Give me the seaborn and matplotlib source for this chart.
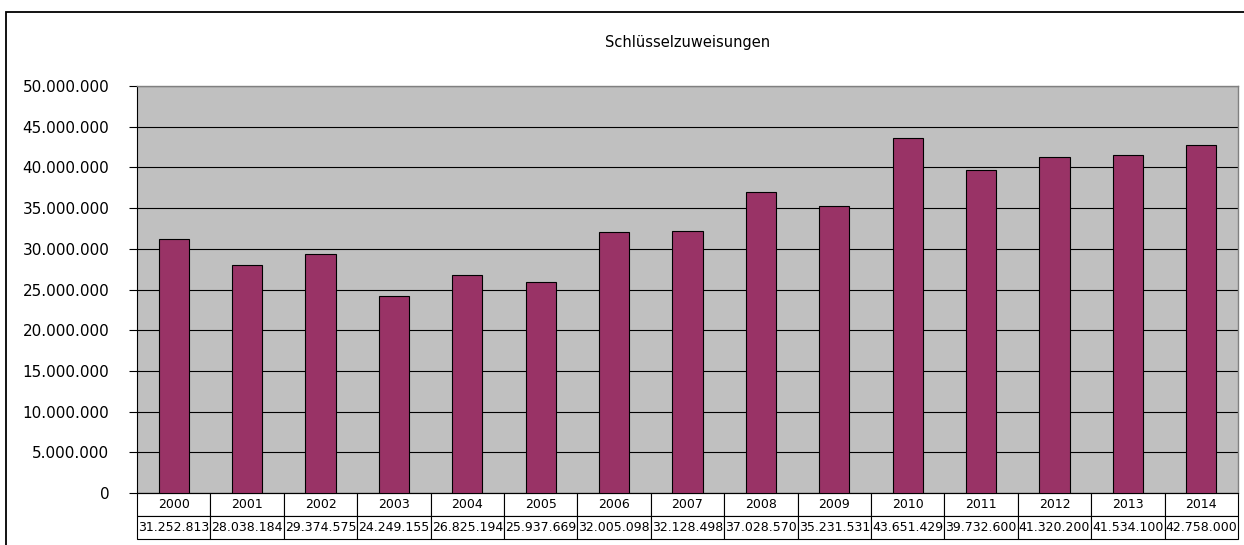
import matplotlib.pyplot as plt
import matplotlib.patches as mpatches
import matplotlib.transforms as mtransforms
import seaborn as sns
import pandas as pd

# data
years = ['2000', '2001', '2002', '2003', '2004', '2005', '2006', '2007',
         '2008', '2009', '2010', '2011', '2012', '2013', '2014']
values = [31252813, 28038184, 29374575, 24249155, 26825194, 25937669, 32005098,
          32128498, 37028570, 35231531, 43651429, 39732600, 41320200, 41534100,
          42758000]
title = 'Schlüsselzuweisungen'


def dotted(v):
    return f'{int(v):,}'.replace(',', '.')


sns.set_style('white')
plt.rcParams['font.family'] = ['DejaVu Sans']
plt.rcParams['text.color'] = 'black'
plt.rcParams['ytick.color'] = 'black'

W, H = 1244, 545
fig = plt.figure(figsize=(W / 100, H / 100), dpi=100)

# outer chart border (runs off the right / bottom edge like the original)
fig.patches.append(mpatches.Rectangle((6 / W, 0 - 0.05), 1.1, (H - 12) / H + 0.05,
                                      transform=fig.transFigure, fill=False,
                                      edgecolor='black', lw=1.3, clip_on=False))

left, right, top, bottom = 137, 1238, 86, 493
ax = fig.add_axes([left / W, (H - bottom) / H, (right - left) / W, (bottom - top) / H])
ax.set_facecolor('#c0c0c0')

df = pd.DataFrame({'year': years, 'value': values})
sns.barplot(data=df, x='year', y='value', color='#993366', edgecolor='black',
            linewidth=0.8, width=0.41, saturation=1, ax=ax, zorder=3)

ax.set_ylim(0, 50000000)
ax.set_xlim(-0.5, len(years) - 0.5)
ax.set_yticks(range(0, 50000001, 5000000))
ax.set_yticklabels([dotted(t) for t in ax.get_yticks()], fontsize=11)
shift = mtransforms.ScaledTranslation(0, -2 / 100, fig.dpi_scale_trans)
for lab in ax.get_yticklabels():
    lab.set_transform(lab.get_transform() + shift)
ax.tick_params(axis='y', length=6, width=0.8, pad=14, color='black', left=True)
ax.yaxis.grid(True, color='black', lw=0.8, zorder=1)
ax.set_axisbelow(True)
ax.set_xticks([])
ax.set_xlabel('')
ax.set_ylabel('')
for s in ['top', 'right']:
    ax.spines[s].set_color('#808080')
    ax.spines[s].set_linewidth(1)
ax.spines['left'].set_color('black')
ax.spines['bottom'].set_color('black')

# data table under the plot
th = 46 / (bottom - top)
tbl = ax.table(cellText=[years, [dotted(v) for v in values]], cellLoc='center',
               bbox=[0, -th, 1, th])
tbl.auto_set_font_size(False)
tbl.set_fontsize(9)
for (r, c), cell in tbl.get_celld().items():
    cell.set_edgecolor('black')
    cell.set_linewidth(0.8)
    cell.set_facecolor('white')

fig.text((left + right) / 2 / W, 1 - 42 / H, title, ha='center', va='center',
         fontsize=10.5)

fig.savefig('out.png', dpi=100)
